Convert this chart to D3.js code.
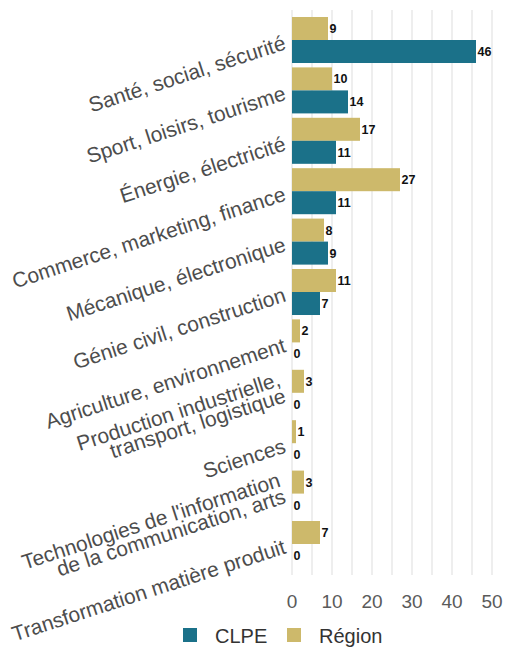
<!DOCTYPE html>
<html><head><meta charset="utf-8">
<script src="https://cdn.jsdelivr.net/npm/d3@7"></script>
<style>
body{margin:0;background:#fff;}
svg{display:block;font-family:"Liberation Sans",Arial,sans-serif;}
</style></head>
<body><svg id="c" width="506" height="650"></svg>
<script>
const categories = [
  "Santé, social, sécurité",
  "Sport, loisirs, tourisme",
  "Énergie, électricité",
  "Commerce, marketing, finance",
  "Mécanique, électronique",
  "Génie civil, construction",
  "Agriculture, environnement",
  "Production industrielle,\ntransport, logistique",
  "Sciences",
  "Technologies de l'information\nde la communication, arts",
  "Transformation matière produit"
];
const regionValues = [9, 10, 17, 27, 8, 11, 2, 3, 1, 3, 7];
const clpeValues = [46, 14, 11, 11, 9, 7, 0, 0, 0, 0, 0];
const seriesNames = ["CLPE", "Région"];
const xTicks = [0, 10, 20, 30, 40, 50];
const gridValues = [0, 5, 10, 15, 20, 25, 30, 35, 40, 45, 50];
const colors = {"CLPE": "#1b7189", "Région": "#cdb96b"};

const svg = d3.select("#c");
const x = d3.scaleLinear().domain([0, 50]).range([292, 492]);
const y = d3.scaleBand().domain(categories).range([14.8, 569.2]).paddingInner(0.087).paddingOuter(0.0435);
const sub = d3.scaleBand().domain(["Région", "CLPE"]).range([0, y.bandwidth()]);

// grid
svg.append("g").selectAll("line").data(gridValues).join("line")
  .attr("x1", d => x(d)).attr("x2", d => x(d))
  .attr("y1", 10).attr("y2", 575)
  .attr("stroke", "#e3e3e3").attr("stroke-width", 1.2);

const rows = categories.map((c, i) => ({cat: c, vals: [
  {s: "Région", v: regionValues[i]}, {s: "CLPE", v: clpeValues[i]}]}));

const g = svg.append("g").selectAll("g").data(rows).join("g")
  .attr("transform", d => `translate(0,${y(d.cat)})`);

g.selectAll("rect").data(d => d.vals).join("rect")
  .attr("x", x(0)).attr("y", d => sub(d.s))
  .attr("width", d => x(d.v) - x(0)).attr("height", sub.bandwidth())
  .attr("fill", d => colors[d.s]);

g.selectAll("text.v").data(d => d.vals).join("text").attr("class", "v")
  .attr("x", d => x(d.v) + 1.5).attr("y", d => sub(d.s) + sub.bandwidth() / 2)
  .attr("dy", "0.36em").attr("font-size", 12.5).attr("font-weight", "bold")
  .attr("fill", "#111").text(d => d.v);

// category labels
const lab = svg.append("g").selectAll("text").data(categories).join("text")
  .attr("transform", d => `translate(287,${y(d) + y.bandwidth() / 2 + 9}) rotate(-18)`)
  .attr("text-anchor", "end").attr("font-size", 21).attr("fill", "#4d4d4d");
lab.each(function(d) {
  const lines = d.split("\n");
  const t = d3.select(this);
  lines.forEach((ln, j) => {
    t.append("tspan").attr("x", 0)
      .attr("dy", j === 0 ? `${-(lines.length - 1) * 0.82}em` : "0.82em")
      .text(ln);
  });
});

// x axis labels
svg.append("g").selectAll("text").data(xTicks).join("text")
  .attr("x", d => x(d)).attr("y", 608).attr("text-anchor", "middle")
  .attr("font-size", 19).attr("fill", "#5a5a5a").text(d => d);

// legend
const leg = svg.append("g").selectAll("g").data(seriesNames).join("g")
  .attr("transform", (d, i) => `translate(${[183, 287][i]},628)`);
leg.append("rect").attr("width", 14).attr("height", 14).attr("fill", d => colors[d]);
leg.append("text").attr("x", 32).attr("y", 15).attr("font-size", 20).attr("fill", "#333").text(d => d);
</script></body></html>
